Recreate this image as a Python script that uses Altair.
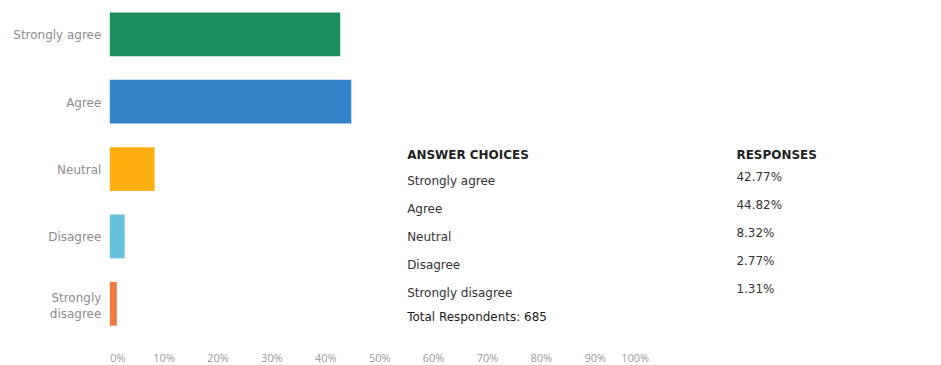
import altair as alt
import pandas as pd

answers = ["Strongly agree", "Agree", "Neutral", "Disagree", "Strongly disagree"]
percents = [42.77, 44.82, 8.32, 2.77, 1.31]
colors = ["#1b8f5b", "#3583c9", "#fdb00f", "#65c2da", "#f07a43"]
response_labels = ["42.77%", "44.82%", "8.32%", "2.77%", "1.31%"]
header_labels = ["ANSWER CHOICES", "RESPONSES"]
total_label = "Total Respondents: 685"
x_ticks = [0, 10, 20, 30, 40, 50, 60, 70, 80, 90, 100]

bars_df = pd.DataFrame({"answer": answers, "pct": percents})

rows_df = pd.DataFrame({
    "row": list(range(1, len(answers) + 1)),
    "answer": answers,
    "resp": response_labels,
})
header_df = pd.DataFrame({"row": [0], "a": [header_labels[0]], "r": [header_labels[1]]})
total_df = pd.DataFrame({"row": [6], "text": [total_label]})

W, H = 540, 314
row_scale = alt.Scale(domain=[1, 5], range=[169, 281])

bars = alt.Chart(bars_df).mark_bar().encode(
    x=alt.X("pct:Q",
            scale=alt.Scale(domain=[0, 100], nice=False),
            axis=alt.Axis(values=x_ticks, labelExpr="datum.value + '%'",
                          title=None, domain=False, ticks=False, grid=False,
                          labelFlush=True, labelPadding=27, labelFontSize=11,
                          labelColor="#9a9a9a", labelFont="Open Sans")),
    y=alt.Y("answer:N", sort=answers,
            scale=alt.Scale(paddingInner=0.35, paddingOuter=0),
            axis=alt.Axis(title=None, domain=False, ticks=False, labelPadding=9,
                          labelFontSize=12, labelColor="#8c8c8c", labelFont="DejaVu Sans",
                          labelLineHeight=16,
                          labelOffset={"condition": {"test": "datum.value == 'Strongly disagree'", "value": -6}, "value": 1},
                          labelExpr="datum.value == 'Strongly disagree' ? ['Strongly', 'disagree'] : datum.value")),
    color=alt.Color("answer:N", sort=answers,
                    scale=alt.Scale(domain=answers, range=colors), legend=None),
)

txt = dict(align="left", baseline="middle", font="DejaVu Sans", fontSize=12)

ans_text = alt.Chart(rows_df).mark_text(color="#333333", **txt).encode(
    x=alt.value(298),
    y=alt.Y("row:Q", scale=row_scale, axis=None),
    text="answer:N",
)
resp_text = alt.Chart(rows_df).mark_text(color="#333333", dy=-4, **txt).encode(
    x=alt.value(628),
    y=alt.Y("row:Q", scale=row_scale, axis=None),
    text="resp:N",
)
head_a = alt.Chart(header_df).mark_text(color="#1f1f1f", fontWeight="bold", dy=2, **txt).encode(
    x=alt.value(298),
    y=alt.Y("row:Q", scale=row_scale, axis=None),
    text="a:N",
)
head_r = alt.Chart(header_df).mark_text(color="#1f1f1f", fontWeight="bold", dy=2, **txt).encode(
    x=alt.value(628),
    y=alt.Y("row:Q", scale=row_scale, axis=None),
    text="r:N",
)
total_text = alt.Chart(total_df).mark_text(color="#1a1a1a", dy=-4, **txt).encode(
    x=alt.value(298),
    y=alt.Y("row:Q", scale=row_scale, axis=None),
    text="text:N",
)

table = alt.layer(ans_text, resp_text, head_a, head_r, total_text)

chart = alt.layer(bars, table).resolve_scale(
    y="independent", x="independent"
).properties(
    width=W, height=H, autosize="none",
    padding={"left": 102, "top": 4, "right": 285, "bottom": 39},
).configure_view(stroke=None)

chart.save("out.html", embed_options={"renderer": "svg", "actions": False})
